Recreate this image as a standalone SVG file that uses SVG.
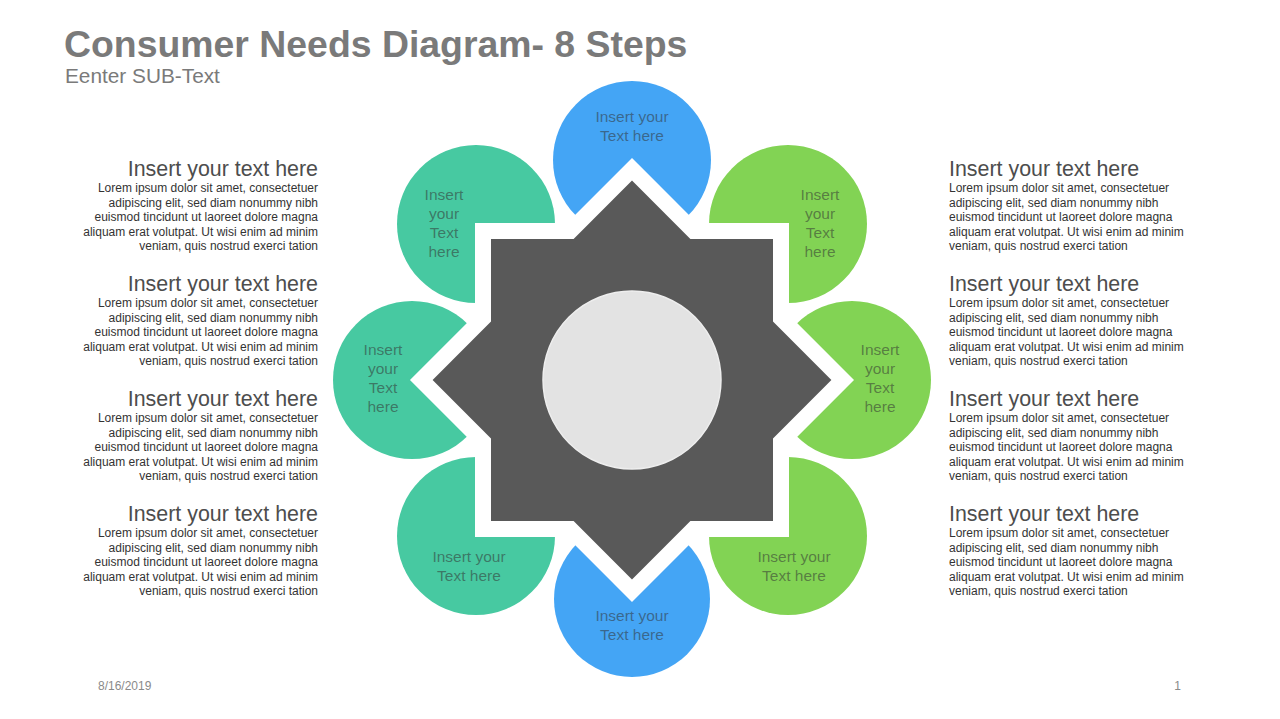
<svg xmlns="http://www.w3.org/2000/svg" width="1280" height="719" viewBox="0 0 1280 719">
<style>
.title{font-family:"Liberation Sans",Arial,sans-serif;font-weight:bold;font-size:37.4px;fill:#7a7a7a}
.sub{font-family:"Liberation Sans",Arial,sans-serif;font-size:20.8px;fill:#7a7a7a}
.hd{font-family:"Liberation Sans",Arial,sans-serif;font-size:21.4px;fill:#4d4d4d}
.bd{font-family:"Liberation Sans",Arial,sans-serif;font-size:12px;fill:#333333}
.pt{font-family:"Liberation Sans",Arial,sans-serif;font-size:15.5px;fill:#333;fill-opacity:0.55;text-anchor:middle}
.ft{font-family:"Liberation Sans",Arial,sans-serif;font-size:12px;fill:#8a8a8a}
.blue{fill:#44A5F5}
.teal{fill:#47C9A1}
.green{fill:#82D354}
</style>
<rect width="1280" height="719" fill="#ffffff"/>
<text class="title" x="64" y="57">Consumer Needs Diagram- 8 Steps</text>
<text class="sub" x="65" y="83">Eenter SUB-Text</text>

<g id="petals">
<g id="petal-top"><circle class="blue" cx="632" cy="160" r="79"/></g>
<g id="petal-top-right"><circle class="green" cx="788" cy="224" r="79"/></g>
<g id="petal-right"><circle class="green" cx="852" cy="380" r="79"/></g>
<g id="petal-bottom-right"><circle class="green" cx="788" cy="536" r="79"/></g>
<g id="petal-bottom"><circle class="blue" cx="632" cy="599" r="78"/></g>
<g id="petal-bottom-left"><circle class="teal" cx="476" cy="536" r="79"/></g>
<g id="petal-left"><circle class="teal" cx="412" cy="380" r="79"/></g>
<g id="petal-top-left"><circle class="teal" cx="476" cy="224" r="79"/></g>
</g>

<g id="star">
<polygon points="632,180.6 690.4,239 773,239 773,321.6 831.4,380 773,438.4 773,521 690.4,521 632,579.4 573.6,521 491,521 491,438.4 432.6,380 491,321.6 491,239 573.6,239" fill="#ffffff" stroke="#ffffff" stroke-width="32" stroke-linejoin="miter"/>
<polygon points="632,180.6 690.4,239 773,239 773,321.6 831.4,380 773,438.4 773,521 690.4,521 632,579.4 573.6,521 491,521 491,438.4 432.6,380 491,321.6 491,239 573.6,239" fill="#595959"/>
<circle cx="632" cy="380" r="89" fill="#e3e3e3" stroke="#eeeeee" stroke-width="1.5"/>
</g>

<g id="petal-labels">
<text class="pt" x="632" y="122">Insert your</text>
<text class="pt" x="632" y="141">Text here</text>

<text class="pt" x="444" y="200">Insert</text>
<text class="pt" x="444" y="219">your</text>
<text class="pt" x="444" y="238">Text</text>
<text class="pt" x="444" y="257">here</text>

<text class="pt" x="820" y="200">Insert</text>
<text class="pt" x="820" y="219">your</text>
<text class="pt" x="820" y="238">Text</text>
<text class="pt" x="820" y="257">here</text>

<text class="pt" x="383" y="355">Insert</text>
<text class="pt" x="383" y="374">your</text>
<text class="pt" x="383" y="393">Text</text>
<text class="pt" x="383" y="412">here</text>

<text class="pt" x="880" y="355">Insert</text>
<text class="pt" x="880" y="374">your</text>
<text class="pt" x="880" y="393">Text</text>
<text class="pt" x="880" y="412">here</text>

<text class="pt" x="469" y="562">Insert your</text>
<text class="pt" x="469" y="581">Text here</text>

<text class="pt" x="794" y="562">Insert your</text>
<text class="pt" x="794" y="581">Text here</text>

<text class="pt" x="632" y="621">Insert your</text>
<text class="pt" x="632" y="640">Text here</text>
</g>

<g id="left-texts" text-anchor="end">
<g id="left-1">
<text class="hd" x="318" y="176">Insert your text here</text>
<text class="bd" x="318" y="192">Lorem ipsum dolor sit amet, consectetuer</text>
<text class="bd" x="318" y="206.5">adipiscing elit, sed diam nonummy nibh</text>
<text class="bd" x="318" y="221">euismod tincidunt ut laoreet dolore magna</text>
<text class="bd" x="318" y="235.5">aliquam erat volutpat. Ut wisi enim ad minim</text>
<text class="bd" x="318" y="250">veniam, quis nostrud exerci tation</text>
</g>
<g id="left-2">
<text class="hd" x="318" y="291">Insert your text here</text>
<text class="bd" x="318" y="307">Lorem ipsum dolor sit amet, consectetuer</text>
<text class="bd" x="318" y="321.5">adipiscing elit, sed diam nonummy nibh</text>
<text class="bd" x="318" y="336">euismod tincidunt ut laoreet dolore magna</text>
<text class="bd" x="318" y="350.5">aliquam erat volutpat. Ut wisi enim ad minim</text>
<text class="bd" x="318" y="365">veniam, quis nostrud exerci tation</text>
</g>
<g id="left-3">
<text class="hd" x="318" y="406">Insert your text here</text>
<text class="bd" x="318" y="422">Lorem ipsum dolor sit amet, consectetuer</text>
<text class="bd" x="318" y="436.5">adipiscing elit, sed diam nonummy nibh</text>
<text class="bd" x="318" y="451">euismod tincidunt ut laoreet dolore magna</text>
<text class="bd" x="318" y="465.5">aliquam erat volutpat. Ut wisi enim ad minim</text>
<text class="bd" x="318" y="480">veniam, quis nostrud exerci tation</text>
</g>
<g id="left-4">
<text class="hd" x="318" y="521">Insert your text here</text>
<text class="bd" x="318" y="537">Lorem ipsum dolor sit amet, consectetuer</text>
<text class="bd" x="318" y="551.5">adipiscing elit, sed diam nonummy nibh</text>
<text class="bd" x="318" y="566">euismod tincidunt ut laoreet dolore magna</text>
<text class="bd" x="318" y="580.5">aliquam erat volutpat. Ut wisi enim ad minim</text>
<text class="bd" x="318" y="595">veniam, quis nostrud exerci tation</text>
</g>
</g>

<g id="right-texts">
<g id="right-1">
<text class="hd" x="949" y="176">Insert your text here</text>
<text class="bd" x="949" y="192">Lorem ipsum dolor sit amet, consectetuer</text>
<text class="bd" x="949" y="206.5">adipiscing elit, sed diam nonummy nibh</text>
<text class="bd" x="949" y="221">euismod tincidunt ut laoreet dolore magna</text>
<text class="bd" x="949" y="235.5">aliquam erat volutpat. Ut wisi enim ad minim</text>
<text class="bd" x="949" y="250">veniam, quis nostrud exerci tation</text>
</g>
<g id="right-2">
<text class="hd" x="949" y="291">Insert your text here</text>
<text class="bd" x="949" y="307">Lorem ipsum dolor sit amet, consectetuer</text>
<text class="bd" x="949" y="321.5">adipiscing elit, sed diam nonummy nibh</text>
<text class="bd" x="949" y="336">euismod tincidunt ut laoreet dolore magna</text>
<text class="bd" x="949" y="350.5">aliquam erat volutpat. Ut wisi enim ad minim</text>
<text class="bd" x="949" y="365">veniam, quis nostrud exerci tation</text>
</g>
<g id="right-3">
<text class="hd" x="949" y="406">Insert your text here</text>
<text class="bd" x="949" y="422">Lorem ipsum dolor sit amet, consectetuer</text>
<text class="bd" x="949" y="436.5">adipiscing elit, sed diam nonummy nibh</text>
<text class="bd" x="949" y="451">euismod tincidunt ut laoreet dolore magna</text>
<text class="bd" x="949" y="465.5">aliquam erat volutpat. Ut wisi enim ad minim</text>
<text class="bd" x="949" y="480">veniam, quis nostrud exerci tation</text>
</g>
<g id="right-4">
<text class="hd" x="949" y="521">Insert your text here</text>
<text class="bd" x="949" y="537">Lorem ipsum dolor sit amet, consectetuer</text>
<text class="bd" x="949" y="551.5">adipiscing elit, sed diam nonummy nibh</text>
<text class="bd" x="949" y="566">euismod tincidunt ut laoreet dolore magna</text>
<text class="bd" x="949" y="580.5">aliquam erat volutpat. Ut wisi enim ad minim</text>
<text class="bd" x="949" y="595">veniam, quis nostrud exerci tation</text>
</g>
</g>

<text class="ft" x="98" y="690">8/16/2019</text>
<text class="ft" x="1181" y="690" text-anchor="end">1</text>
</svg>
